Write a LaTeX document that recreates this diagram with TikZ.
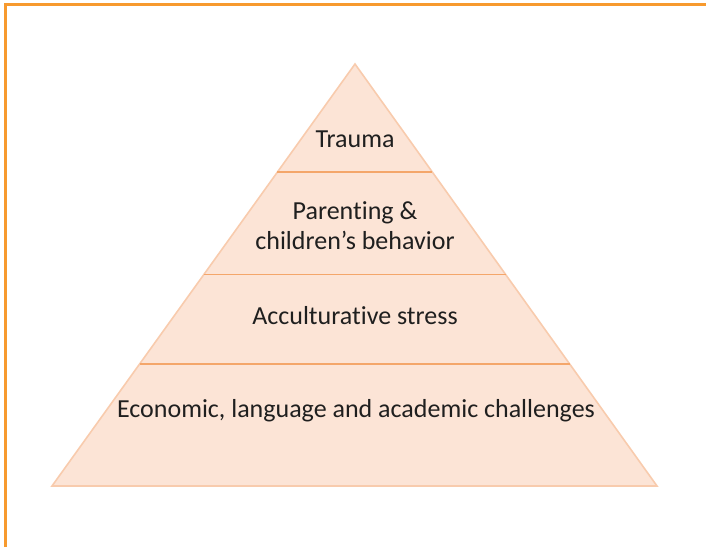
\documentclass[tikz,border=0pt]{standalone}
\usepackage{fontspec}
\setmainfont[RawFeature={-liga}]{Carlito}
\usetikzlibrary{calc}
\definecolor{frameorange}{HTML}{F79A2E}
\definecolor{tierfill}{HTML}{FCE4D6}
\definecolor{tieredge}{HTML}{F8CBAD}
\definecolor{tierline}{HTML}{F4A66A}
\definecolor{txt}{HTML}{1F1F1F}
\tikzset{
  label/.style={font=\fontsize{26}{30}\selectfont, text=txt, align=center, inner sep=0pt},
  divider/.style={draw=tierline, line width=1.3pt},
}
\begin{document}
\begin{tikzpicture}[x=1pt,y=-1pt]
\useasboundingbox (0,0) rectangle (706,547);
\draw[frameorange, line width=3pt] (5,547) -- (5,4.5) -- (706,4.5);
\coordinate (apex) at (355,64);
\coordinate (bl) at (52,486);
\coordinate (br) at (657,486);
\filldraw[fill=tierfill, draw=tieredge, line width=1.6pt, line join=miter] (apex) -- (bl) -- (br) -- cycle;
\foreach \t in {0.2559,0.4988,0.7109}{
  \draw[divider] ($(apex)!\t!(bl)$) -- ($(apex)!\t!(br)$);
}
\node[label] (trauma) at (355,139) {Trauma};
\node[label] (parenting) at (355,226) {Parenting \&\\children’s behavior};
\node[label] (accult) at (355,316) {Acculturative stress};
\node[label] (econ) at (356,411) {Economic, language and academic challenges};
\end{tikzpicture}
\end{document}
